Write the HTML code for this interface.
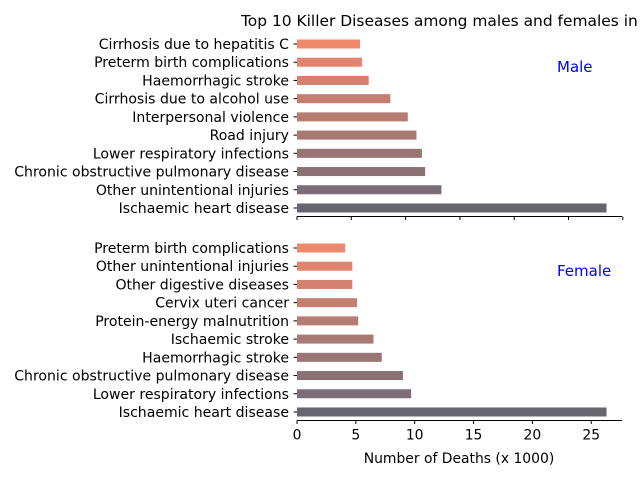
<!DOCTYPE html>
<html><head><meta charset="utf-8"><style>
body{margin:0;background:#fff;}
svg{display:block;font-family:"DejaVu Sans","Liberation Sans",sans-serif;}
</style></head><body>
<svg id="chart" width="640" height="480">
<text x="241" y="26" font-size="15.45" fill="#000">Top 10 Killer Diseases among males and females in</text>
<g id="top"></g>
<g id="bot"></g>
<text x="557" y="72" font-size="15" fill="#0000ff">Male</text>
<text x="557" y="276" font-size="15" fill="#0000ff">Female</text>
<text x="459" y="463" font-size="13.9" text-anchor="middle" fill="#000">Number of Deaths (x 1000)</text>
</svg>
<script>
const maleCats=["Cirrhosis due to hepatitis C","Preterm birth complications","Haemorrhagic stroke","Cirrhosis due to alcohol use","Interpersonal violence","Road injury","Lower respiratory infections","Chronic obstructive pulmonary disease","Other unintentional injuries","Ischaemic heart disease"];
const maleVals=[5.8,6.0,6.6,8.6,10.2,11.0,11.5,11.8,13.3,28.5];
const femaleCats=["Preterm birth complications","Other unintentional injuries","Other digestive diseases","Cervix uteri cancer","Protein-energy malnutrition","Ischaemic stroke","Haemorrhagic stroke","Chronic obstructive pulmonary disease","Lower respiratory infections","Ischaemic heart disease"];
const femaleVals=[4.1,4.7,4.7,5.1,5.2,6.5,7.2,9.0,9.7,26.3];
const xTicksTop=[0,5,10,15,20,25,30];
const xTicksBot=[0,5,10,15,20,25];
const colors=["#f0886c","#e2846f","#d48170","#c57e71","#b67b72","#a87873","#997475","#8a7176","#7a6d77","#67656f"];
const NS="http://www.w3.org/2000/svg";
function mk(p,t,a){const e=document.createElementNS(NS,t);for(const k in a)e.setAttribute(k,a[k]);p.appendChild(e);return e;}
function panel(g,cats,vals,ticks,y0,spineY,showLabels,prefix){
  const xmax=Math.max(...vals)*1.05;
  const x=v=>297+v/xmax*325;
  const y=i=>y0+i*18.22;
  cats.forEach((c,i)=>{
    const r=mk(g,"rect",{x:x(0),y:y(i)-4.5,width:x(vals[i])-x(0),height:9,fill:colors[i]});
    
    
    mk(g,"line",{x1:293.5,x2:297,y1:y(i),y2:y(i),stroke:"#000","stroke-width":1});
    const t=mk(g,"text",{x:289,y:y(i)+5,"font-size":14.05,"text-anchor":"end",fill:"#000"});
    t.textContent=c;
    
    
  });
  mk(g,"line",{x1:297,x2:622,y1:spineY,y2:spineY,stroke:"#000","stroke-width":1});
  ticks.forEach(v=>{
    mk(g,"line",{x1:x(v),x2:x(v),y1:spineY,y2:spineY+3.5,stroke:"#000","stroke-width":1});
    if(showLabels){
      const t=mk(g,"text",{x:x(v),y:spineY+19,"font-size":13.9,"text-anchor":"middle",fill:"#000"});
      t.textContent=v;
      
      
    }
  });
}
panel(document.getElementById('top'),maleCats,maleVals,xTicksTop,44,216.5,false,'male');
panel(document.getElementById('bot'),femaleCats,femaleVals,xTicksBot,248,420.5,true,'female');
</script>
</body></html>
